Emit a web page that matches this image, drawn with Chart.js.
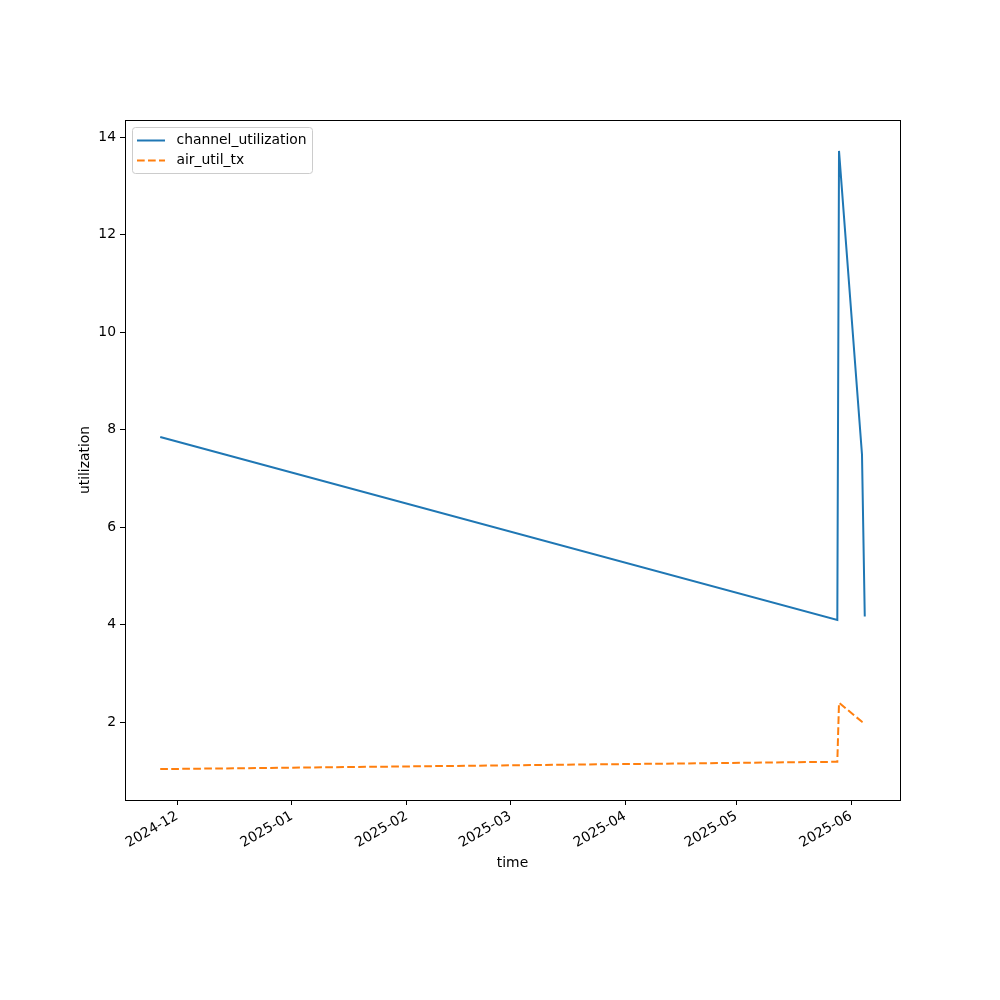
<!DOCTYPE html>
<html>
<head>
<meta charset="utf-8">
<script src="https://cdn.jsdelivr.net/npm/chart.js@4/dist/chart.umd.min.js"></script>
<style>
  html, body { margin: 0; padding: 0; background: #ffffff; }
  #c { display: block; }
</style>
</head>
<body>
<canvas id="c" width="1000" height="1000"></canvas>
<script>
// ---- data ----
const times = [
  '2024-11-26T10:00:00Z',
  '2025-05-28T07:00:00Z',
  '2025-05-28T18:00:00Z',
  '2025-06-03T23:00:00Z',
  '2025-06-04T17:00:00Z'
];
const channelUtilization = [7.85, 4.10, 13.72, 7.49, 4.17];
const airUtilTx = [1.04, 1.19, 2.40, 2.01, 1.97];
const seriesNames = ['channel_utilization', 'air_util_tx'];
const xTickLabels = ['2024-12', '2025-01', '2025-02', '2025-03', '2025-04', '2025-05', '2025-06'];
const yTickValues = [2, 4, 6, 8, 10, 12, 14];
const xAxisTitle = 'time';
const yAxisTitle = 'utilization';

// ---- build ----
const tMs = times.map(t => Date.parse(t));
const xTickMs = xTickLabels.map(s => Date.parse(s + '-01T00:00:00Z'));
const tMin = Math.min(...tMs), tMax = Math.max(...tMs);
const tPad = (tMax - tMin) * 0.05;
const allY = channelUtilization.concat(airUtilTx);
const yMinD = Math.min(...allY), yMaxD = Math.max(...allY);
const yPad = (yMaxD - yMinD) * 0.05;

const FONT = "'DejaVu Sans', sans-serif";
const FSIZE = 13.9;

const framePlugin = {
  id: 'frame',
  beforeDraw(chart) {
    const ctx = chart.ctx;
    ctx.save();
    ctx.fillStyle = '#ffffff';
    ctx.fillRect(0, 0, chart.width, chart.height);
    ctx.restore();
  },
  afterDraw(chart) {
    const a = chart.chartArea, ctx = chart.ctx;
    ctx.save();
    ctx.strokeStyle = '#000000';
    ctx.lineWidth = 1;
    ctx.strokeRect(Math.round(a.left) + 0.5, Math.round(a.top) + 0.5,
                   Math.round(a.right - a.left), Math.round(a.bottom - a.top));
    ctx.restore();
  }
};

// matplotlib-style legend drawn inside the axes (upper left)
const innerLegendPlugin = {
  id: 'innerLegend',
  afterDatasetsDraw(chart) {
    const a = chart.chartArea, ctx = chart.ctx;
    const x = a.left + 7, y = a.top + 7, w = 180, h = 46;
    ctx.save();
    ctx.fillStyle = 'rgba(255,255,255,0.8)';
    ctx.strokeStyle = '#cccccc';
    ctx.lineWidth = 1;
    ctx.beginPath();
    ctx.roundRect(x + 0.5, y + 0.5, w, h, 3);
    ctx.fill();
    ctx.stroke();
    ctx.font = FSIZE + 'px ' + FONT;
    ctx.textBaseline = 'middle';
    ctx.textAlign = 'left';
    chart.data.datasets.forEach((ds, i) => {
      const cy = y + 13.5 + i * 20;
      ctx.strokeStyle = ds.borderColor;
      ctx.lineWidth = 2;
      ctx.setLineDash(ds.borderDash || []);
      ctx.beginPath();
      ctx.moveTo(x + 5, cy);
      ctx.lineTo(x + 33, cy);
      ctx.stroke();
      ctx.setLineDash([]);
      ctx.fillStyle = '#000000';
      ctx.fillText(ds.label, x + 44.5, cy);
    });
    ctx.restore();
  }
};

new Chart(document.getElementById('c'), {
  type: 'line',
  data: {
    datasets: [
      {
        label: seriesNames[0],
        data: tMs.map((t, i) => ({ x: t, y: channelUtilization[i] })),
        borderColor: '#1f77b4',
        backgroundColor: '#1f77b4',
        borderWidth: 2,
        pointRadius: 0,
        tension: 0,
        fill: false
      },
      {
        label: seriesNames[1],
        data: tMs.map((t, i) => ({ x: t, y: airUtilTx[i] })),
        borderColor: '#ff7f0e',
        backgroundColor: '#ff7f0e',
        borderWidth: 2,
        borderDash: [7.7, 3.3],
        pointRadius: 0,
        tension: 0,
        fill: false
      }
    ]
  },
  options: {
    responsive: false,
    animation: false,
    devicePixelRatio: 1,
    layout: { padding: { left: 73, top: 120, right: 100, bottom: 128 } },
    plugins: {
      legend: { display: false },
      tooltip: { enabled: false }
    },
    scales: {
      x: {
        type: 'linear',
        min: tMin - tPad,
        max: tMax + tPad,
        afterFit(scale) { scale.height = 72; },
        afterBuildTicks(scale) { scale.ticks = xTickMs.map(v => ({ value: v })); },
        grid: { display: true, drawOnChartArea: false, drawTicks: true, tickLength: 5, color: '#000000' },
        border: { display: true, color: '#000000', width: 1 },
        ticks: {
          autoSkip: false,
          maxRotation: 30,
          minRotation: 30,
          padding: 3,
          color: '#000000',
          font: { family: FONT, size: FSIZE },
          callback(v) {
            const i = xTickMs.indexOf(v);
            return i >= 0 ? xTickLabels[i] : '';
          }
        },
        title: { display: true, text: xAxisTitle, color: '#000000', font: { family: FONT, size: FSIZE }, padding: { top: 0, bottom: 0 } }
      },
      y: {
        type: 'linear',
        min: yMinD - yPad,
        max: yMaxD + yPad,
        afterFit(scale) { scale.width = 52; },
        afterBuildTicks(scale) { scale.ticks = yTickValues.map(v => ({ value: v })); },
        grid: { display: true, drawOnChartArea: false, drawTicks: true, tickLength: 5, color: '#000000' },
        border: { display: true, color: '#000000', width: 1 },
        ticks: {
          padding: 4,
          color: '#000000',
          font: { family: FONT, size: FSIZE },
          callback(v) { return String(v); }
        },
        title: { display: true, text: yAxisTitle, color: '#000000', font: { family: FONT, size: FSIZE }, padding: { top: 4, bottom: 0 } }
      }
    }
  },
  plugins: [framePlugin, innerLegendPlugin]
});
</script>
</body>
</html>
